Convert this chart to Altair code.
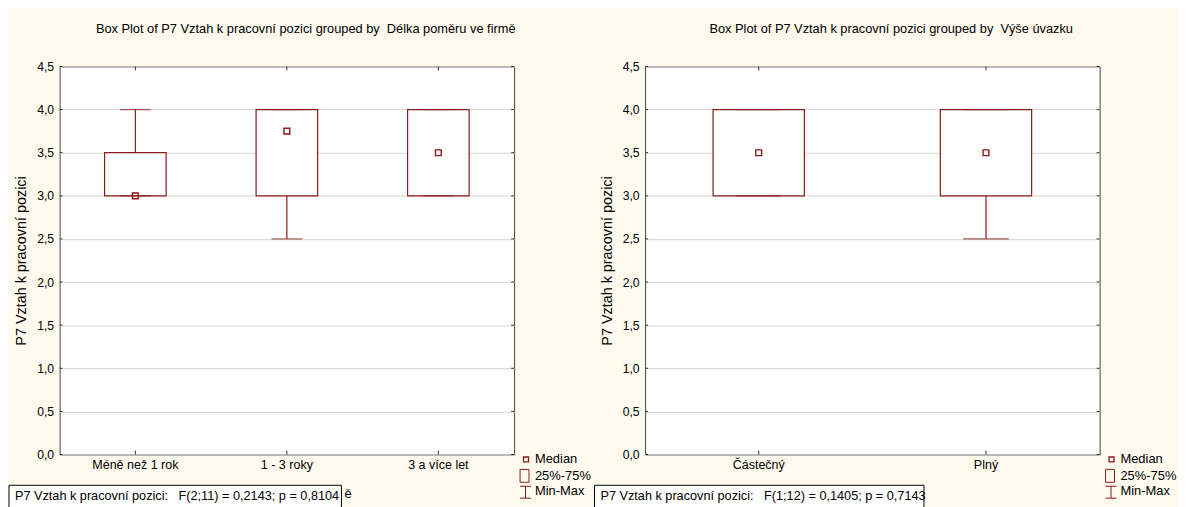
import altair as alt
import pandas as pd

# ---- data ----
cats_a = ["Méně než 1 rok", "1 - 3 roky", "3 a více let"]
min_a = [3.0, 2.5, 3.0]
q1_a = [3.0, 3.0, 3.0]
med_a = [3.0, 3.75, 3.5]
q3_a = [3.5, 4.0, 4.0]
max_a = [4.0, 4.0, 4.0]
title_a = "Box Plot of P7 Vztah k pracovní pozici grouped by\u00a0\u00a0Délka poměru ve firmě"
stat_a = "P7 Vztah k pracovní pozici:\u00a0\u00a0\u00a0F(2;11) = 0,2143; p = 0,8104"

cats_b = ["Částečný", "Plný"]
min_b = [3.0, 2.5]
q1_b = [3.0, 3.0]
med_b = [3.5, 3.5]
q3_b = [4.0, 4.0]
max_b = [4.0, 4.0]
title_b = "Box Plot of P7 Vztah k pracovní pozici grouped by\u00a0\u00a0Výše úvazku"
stat_b = "P7 Vztah k pracovní pozici:\u00a0\u00a0\u00a0F(1;12) = 0,1405; p = 0,7143"

y_title = "P7 Vztah k pracovní pozici"
y_ticks = [0.0, 0.5, 1.0, 1.5, 2.0, 2.5, 3.0, 3.5, 4.0, 4.5]
legend_labels = ["Median", "25%-75%", "Min-Max"]
leftover = ["ě"]

# ---- style ----
W, H = 458, 391
RED = "#8b1a1a"
BG = "#fefaee"
FONT = "Liberation Sans"
DARK = "#333333"


def one(text):
    return alt.Chart(pd.DataFrame({"t": [text]}))


def panel(cats, mins, q1s, meds, q3s, maxs, title, stat, box_w, stat_w, extra=None):
    df = pd.DataFrame({"cat": cats, "lo": mins, "q1": q1s, "med": meds, "q3": q3s, "hi": maxs})
    base = alt.Chart(df)
    xscale = alt.Scale(domain=cats, paddingInner=0, paddingOuter=0)
    x_axis = alt.X("cat:N", sort=cats, scale=xscale,
                   axis=alt.Axis(title=None, labelAngle=0, ticks=False, domain=False, grid=False,
                                 labelPadding=4, labelFontSize=12.6, labelFont=FONT,
                                 labelColor="black"))
    X = alt.X("cat:N", sort=cats, scale=xscale)
    yscale = alt.Scale(domain=[0, 4.5], nice=False, zero=False)
    yaxis = alt.Axis(values=y_ticks,
                     labelExpr="replace(format(datum.value, '.1f'), '.', ',')",
                     grid=True, gridColor="#d6d6d6", gridWidth=1, domain=False, ticks=False,
                     labelPadding=6, labelFontSize=12.3, labelFont=FONT, labelColor="black",
                     titleFont=FONT, titleFontSize=14.5, titleFontWeight="normal",
                     titleColor="black", titleX=-38, titleY=H / 2, titleAngle=-90,
                     titleBaseline="middle", titleAlign="center")

    def Y(f):
        return alt.Y(f, scale=yscale, title=y_title)

    box = base.mark_bar(width=box_w, fill="white", stroke=RED, strokeWidth=1.2).encode(
        x=x_axis, y=alt.Y("q1:Q", scale=yscale, axis=yaxis, title=y_title), y2="q3:Q")
    w_hi = base.mark_rule(color=RED, strokeWidth=1.2).encode(x=X, y=Y("q3:Q"), y2="hi:Q")
    w_lo = base.mark_rule(color=RED, strokeWidth=1.2).encode(x=X, y=Y("lo:Q"), y2="q1:Q")
    cap_hi = base.mark_tick(color=RED, size=box_w / 2, thickness=1.2, orient="horizontal").encode(
        x=X, y=Y("hi:Q"))
    cap_lo = base.mark_tick(color=RED, size=box_w / 2, thickness=1.2, orient="horizontal").encode(
        x=X, y=Y("lo:Q"))
    med = base.mark_square(size=34, filled=False, stroke=RED, strokeWidth=1.4, opacity=1).encode(
        x=X, y=Y("med:Q"))

    # inner ticks
    tb = base.mark_rule(color=DARK).encode(x=X, y=alt.value(H), y2=alt.value(H - 4))
    tt = base.mark_rule(color=DARK).encode(x=X, y=alt.value(0), y2=alt.value(4))
    ydf = alt.Chart(pd.DataFrame({"v": y_ticks}))
    tl = ydf.mark_rule(color=DARK).encode(y=Y("v:Q"), x=alt.value(0), x2=alt.value(3))
    tr = ydf.mark_rule(color=DARK).encode(y=Y("v:Q"), x=alt.value(W - 3), x2=alt.value(W))

    ttl = one(title).mark_text(font=FONT, fontSize=12.9, align="center", baseline="middle",
                               color="black").encode(text="t:N", x=alt.value(248),
                                                     y=alt.value(-38))

    # legend
    lx = W + 21
    lg_sq = one("m").mark_square(size=25, filled=False, stroke=RED, strokeWidth=1.3,
                                 opacity=1).encode(x=alt.value(W + 12), y=alt.value(H + 5))
    lg_box = one("b").mark_rect(fill=None, stroke=RED, strokeWidth=1).encode(
        x=alt.value(W + 6), x2=alt.value(W + 15), y=alt.value(H + 15), y2=alt.value(H + 28))
    lg_v = one("v").mark_rule(color=RED).encode(x=alt.value(W + 11.5), y=alt.value(H + 32),
                                                y2=alt.value(H + 44))
    lg_c1 = one("c").mark_rule(color=RED).encode(x=alt.value(W + 6), x2=alt.value(W + 17),
                                                 y=alt.value(H + 32))
    lg_c2 = one("c").mark_rule(color=RED).encode(x=alt.value(W + 6), x2=alt.value(W + 17),
                                                 y=alt.value(H + 44))
    lg_t = []
    for lab, yy in zip(legend_labels, [H + 5, H + 21.5, H + 37]):
        lg_t.append(one(lab).mark_text(font=FONT, fontSize=13, align="left", baseline="middle",
                                       color="black").encode(text="t:N", x=alt.value(lx),
                                                             y=alt.value(yy)))

    layers = [box, w_hi, w_lo, cap_hi, cap_lo, med, tb, tt, tl, tr, ttl,
              lg_sq, lg_box, lg_v, lg_c1, lg_c2] + lg_t

    if extra:
        layers.append(one(extra).mark_text(font=FONT, fontSize=13, align="left",
                                           baseline="middle", color="black").encode(
            text="t:N", x=alt.value(stat_w + 3), y=alt.value(H + 40)))

    sbox = one("s").mark_rect(fill="white", stroke="black", strokeWidth=1).encode(
        x=alt.value(-51), x2=alt.value(stat_w), y=alt.value(H + 31), y2=alt.value(H + 56))
    stxt = one(stat).mark_text(font=FONT, fontSize=12.8, align="left", baseline="middle",
                               color="black").encode(text="t:N", x=alt.value(-45),
                                                     y=alt.value(H + 42))
    layers += [sbox, stxt]
    return alt.layer(*layers).properties(width=W, height=H)


p1 = panel(cats_a, min_a, q1_a, med_a, q3_a, max_a, title_a, stat_a, 62, 284, leftover[0])
p2 = panel(cats_b, min_b, q1_b, med_b, q3_b, max_b, title_b, stat_b, 92, 281)

chart = alt.hconcat(p1, p2, spacing=132, bounds="flush").properties(
    background=BG,
    padding={"left": 0, "top": 12, "right": 2, "bottom": 0},
).configure_view(stroke="#444444", strokeWidth=1, fill="white")

chart.save("out.html", embed_options={"renderer": "svg", "actions": False})
